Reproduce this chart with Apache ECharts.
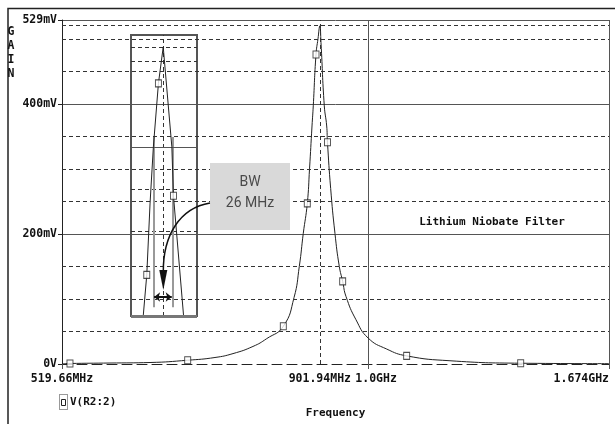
<!DOCTYPE html>
<html>
<head>
<meta charset="utf-8">
<script src="https://cdn.jsdelivr.net/npm/echarts@6/dist/echarts.min.js"></script>
<style>
html,body{margin:0;padding:0;background:#fff}
#main{width:615px;height:424px}
</style>
</head>
<body>
<div id="main"></div>
<script>
// main trace, V(R2:2) in mV against frequency in MHz
var freqMHz = [519.66, 528.6, 575.8, 627.3, 679.9, 720.8, 749.1, 781.8, 805.1, 834.2, 853.5, 863.2, 870.6, 878.1, 882.3, 887.0, 889.4, 894.6, 898.4, 901.94,
               904.2, 910.6, 915.3, 916.8, 923.1, 931.6, 940.3, 947.1, 953.8, 974.5, 1000, 1040.6, 1086.0, 1191.4, 1385.9, 1674];
var gainMV  = [0.3, 0.8, 1.5, 2.3, 5.8, 10, 16, 27, 39, 58, 102, 150, 201, 247, 300, 366, 397, 476, 500, 520,
               494, 397, 366, 341, 270, 201, 150, 127, 104, 68, 40, 23, 12.5, 5, 1.2, 0.5];
// square markers on the trace
var markFreq = [528.6, 679.9, 834.2, 878.1, 894.6, 916.8, 947.1, 1086.0, 1385.9];
var markGain = [0.8, 5.8, 58, 247, 476, 341, 127, 12.5, 1.2];

// axes
var xTickValues = [519.66, 901.94, 1000, 1674];
var xTickLabels = ['519.66MHz', '901.94MHz', '1.0GHz', '1.674GHz'];
var minorGain = [50, 100, 150, 250, 300, 350, 450, 500];
var cursorFreq = 901.94;
var cursorGain = 521;

// inset: zoom on the peak
var insetFreq = [874.8, 879.5, 884.0, 888.5, 895.4, 901.94, 913.7, 915.9, 929.6];
var insetGain = [2, 79, 217, 325, 447, 517, 325, 231, 2];
var insetMarkFreq = [879.5, 895.4, 915.9];
var insetMarkGain = [79, 447, 231];
var insetMinor = [489, 244, 163];
var insetCursorGain = 517;
var insetHalfGain = 325;
var bwLow = 888.5, bwHigh = 914.5;

var monoFont = 'DejaVu Sans Mono';

function zip(a, b){
	var out = [];
	for (var i = 0; i < a.length; i++) out.push([a[i], b[i]]);
	return out;
}

var myChart = echarts.init(document.getElementById('main'));

var mainLines = [];
for (var i = 0; i < minorGain.length; i++) mainLines.push({yAxis: minorGain[i]});
mainLines.push({yAxis: cursorGain});
mainLines.push({xAxis: cursorFreq});

var insetLines = [];
for (var j = 0; j < insetMinor.length; j++) insetLines.push({yAxis: insetMinor[j]});
insetLines.push({yAxis: insetCursorGain});
insetLines.push({xAxis: cursorFreq});

var option = {
	animation: false,
	grid: [
		{left: 62, top: 20, right: 6, bottom: 57.5},
		{left: 131, top: 35, width: 66, height: 281, show: true, backgroundColor: 'rgba(0,0,0,0)', borderColor: '#555', borderWidth: 2}
	],
	xAxis: [
		{
			type: 'log', logBase: 10, gridIndex: 0,
			min: 519.66, max: 1674,
			axisLine: {show: true, lineStyle: {color: '#222', width: 1, type: [10, 5]}},
			axisTick: {show: true, length: 5, lineStyle: {color: '#555'}},
			splitLine: {show: true, lineStyle: {color: '#555', width: 1}},
			minorTick: {show: false},
			axisLabel: {
				customValues: xTickValues,
				formatter: function(v){
					var best = 0;
					for (var k = 1; k < xTickValues.length; k++) {
						if (Math.abs(xTickValues[k] - v) < Math.abs(xTickValues[best] - v)) best = k;
					}
					if (xTickLabels[best] == '1.0GHz') return '{g|1.0GHz}';
					return xTickLabels[best];
				},
				fontFamily: monoFont, fontWeight: 'bold', fontSize: 11.5, color: '#111',
				margin: 9,
				alignMinLabel: 'center', alignMaxLabel: 'right',
				rich: {g: {fontFamily: monoFont, fontWeight: 'bold', fontSize: 11.5, color: '#111', padding: [0, 0, 0, 16]}}
			},
			name: 'Frequency', nameLocation: 'middle', nameGap: 44,
			nameTextStyle: {fontFamily: monoFont, fontWeight: 'bold', fontSize: 11, color: '#111'}
		},
		{type: 'value', gridIndex: 1, min: 858, max: 948, show: false}
	],
	yAxis: [
		{
			type: 'value', gridIndex: 0,
			min: 0, max: 529, interval: 200,
			axisLine: {show: true, lineStyle: {color: '#222'}},
			axisTick: {show: true, length: 4, lineStyle: {color: '#222'}},
			splitLine: {show: true, showMinLine: false, lineStyle: {color: '#555', width: 1}},
			axisLabel: {
				formatter: function(v){ return v == 0 ? '0V' : Math.round(v) + 'mV'; },
				fontFamily: monoFont, fontWeight: 'bold', fontSize: 11.5, color: '#111', margin: 5
			}
		},
		{type: 'value', gridIndex: 1, min: 0, max: 540, show: false}
	],
	series: [
		{
			name: 'V(R2:2)', type: 'line', xAxisIndex: 0, yAxisIndex: 0,
			data: zip(freqMHz, gainMV),
			showSymbol: false, smooth: 0.5,
			lineStyle: {color: '#222', width: 1},
			z: 3,
			markLine: {
				silent: true, symbol: ['none', 'none'],
				label: {show: false},
				lineStyle: {color: '#333', width: 1, type: [4, 3]},
				data: mainLines
			}
		},
		{
			type: 'scatter', xAxisIndex: 0, yAxisIndex: 0,
			data: zip(markFreq, markGain),
			symbol: 'rect', symbolSize: [6, 7],
			itemStyle: {color: '#fff', borderColor: '#222', borderWidth: 1},
			z: 4
		},
		{
			type: 'line', xAxisIndex: 1, yAxisIndex: 1,
			data: zip(insetFreq, insetGain),
			showSymbol: false,
			lineStyle: {color: '#222', width: 1},
			z: 5,
			markLine: {
				silent: true, symbol: ['none', 'none'],
				label: {show: false},
				lineStyle: {color: '#333', width: 1, type: [4, 3]},
				data: insetLines
			}
		},
		{
			type: 'scatter', xAxisIndex: 1, yAxisIndex: 1,
			data: zip(insetMarkFreq, insetMarkGain),
			symbol: 'rect', symbolSize: [6, 7],
			itemStyle: {color: '#fff', borderColor: '#222', borderWidth: 1},
			z: 6,
			markLine: {
				silent: true, symbol: ['none', 'none'],
				label: {show: false},
				data: [
					[{coord: [bwLow, 17], lineStyle: {color: '#999', width: 2, type: 'solid'}}, {coord: [bwLow, 344]}],
					[{coord: [bwHigh, 17], lineStyle: {color: '#999', width: 2, type: 'solid'}}, {coord: [bwHigh, 344]}],
					[{coord: [858, insetHalfGain], lineStyle: {color: '#555', width: 1, type: 'solid'}}, {coord: [948, insetHalfGain]}],
					[{coord: [858, 0], lineStyle: {color: '#777', width: 3, type: 'solid'}}, {coord: [948, 0]}],
					[{coord: [bwLow + 1, 36.5], symbol: 'arrow', symbolSize: [7, 6], lineStyle: {color: '#111', width: 2, type: 'solid'}},
					 {coord: [bwHigh - 1, 36.5], symbol: 'arrow', symbolSize: [7, 6]}]
				]
			}
		}
	],
	graphic: [
		{type: 'polyline', shape: {points: [[8, 424], [8, 8.5], [615, 8.5]]}, style: {stroke: '#222', lineWidth: 1.5, fill: null}},
		{type: 'text', style: {text: 'G', x: 11, y: 32, align: 'center', verticalAlign: 'middle', fontFamily: monoFont, fontWeight: 'bold', fontSize: 11.5, fill: '#111'}},
		{type: 'text', style: {text: 'A', x: 11, y: 46, align: 'center', verticalAlign: 'middle', fontFamily: monoFont, fontWeight: 'bold', fontSize: 11.5, fill: '#111'}},
		{type: 'text', style: {text: 'I', x: 11, y: 60, align: 'center', verticalAlign: 'middle', fontFamily: monoFont, fontWeight: 'bold', fontSize: 11.5, fill: '#111'}},
		{type: 'text', style: {text: 'N', x: 11, y: 74, align: 'center', verticalAlign: 'middle', fontFamily: monoFont, fontWeight: 'bold', fontSize: 11.5, fill: '#111'}},
		{type: 'text', style: {text: 'Lithium Niobate Filter', x: 492, y: 222, align: 'center', verticalAlign: 'middle', fontFamily: monoFont, fontWeight: 'bold', fontSize: 11, fill: '#111'}},
		// BW callout
		{type: 'rect', shape: {x: 210, y: 163, width: 80, height: 67}, style: {fill: '#d9d9d9'}, z: 10},
		{type: 'text', style: {text: 'BW', x: 250, y: 182, align: 'center', verticalAlign: 'middle', fontFamily: 'Roboto', fontSize: 14, fill: '#4a4a4a'}, z: 11},
		{type: 'text', style: {text: '26 MHz', x: 250, y: 203, align: 'center', verticalAlign: 'middle', fontFamily: 'Roboto', fontSize: 14, fill: '#4a4a4a'}, z: 11},
		{type: 'bezierCurve', shape: {x1: 210, y1: 203, cpx1: 180, cpy1: 208, cpx2: 163, cpy2: 235, x2: 163.3, y2: 272}, style: {stroke: '#111', lineWidth: 1.5, fill: null}, z: 11},
		{type: 'polygon', shape: {points: [[159.3, 270], [167.3, 270], [163.3, 290]]}, style: {fill: '#111'}, z: 11},
		// legend
		{type: 'rect', shape: {x: 59.5, y: 394.5, width: 8, height: 15}, style: {fill: null, stroke: '#333', lineWidth: 1, lineDash: [1, 1]}},
		{type: 'rect', shape: {x: 61.5, y: 399.5, width: 4, height: 6}, style: {fill: '#fff', stroke: '#222', lineWidth: 1}},
		{type: 'text', style: {text: 'V(R2:2)', x: 70, y: 402.5, align: 'left', verticalAlign: 'middle', fontFamily: monoFont, fontWeight: 'bold', fontSize: 11, fill: '#111'}}
	]
};
myChart.setOption(option);
</script>
</body>
</html>
